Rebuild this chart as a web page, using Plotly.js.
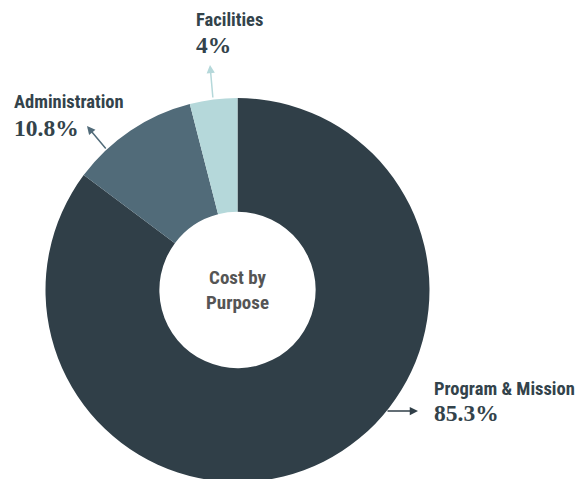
<!DOCTYPE html>
<html>
<head>
<meta charset="utf-8">
<script src="https://cdn.plot.ly/plotly-3.0.1.min.js"></script>
<style>
html, body { margin: 0; padding: 0; overflow: hidden; background: #fff; }
#chart { width: 585px; height: 490px; }
</style>
</head>
<body>
<div id="chart"></div>
<script>
// Data
const categories = ["Program & Mission", "Administration", "Facilities"];
const values = [85.3, 10.8, 4];
const pctLabels = ["85.3%", "10.8%", "4%"];
const centerTitle = "Cost by<br>Purpose";

const colors = ["#303f48", "#516b79", "#b5d8da"];
const W = 585, H = 490;
const px = x => x / W;
const py = y => (H - y) / H;

const labelFont = "'Liberation Sans Narrow', 'Roboto Condensed', 'Arial Narrow', Roboto, sans-serif";
const pctFont = "'Liberation Serif', 'DejaVu Serif', serif";
const textColor = "#33434b";

// label positions (pixels) and arrow geometry for each category
const labelPos = [
  {x: 432, yl: 388.5, yp: 413, head: [418, 411], tail: [-32, 0]},
  {x: 12, yl: 102.5, yp: 128, head: [87, 126], tail: [20, 24]},
  {x: 194, yl: 19.5, yp: 45, head: [210, 65], tail: [3, 34]}
];

const annotations = [];
categories.forEach((c, i) => {
  const p = labelPos[i];
  annotations.push({
    xref: "paper", yref: "paper", x: px(p.x), y: py(p.yl),
    xanchor: "left", yanchor: "middle", showarrow: false,
    text: "<b>" + c + "</b>",
    font: {family: labelFont, size: 18.5, color: textColor}
  });
  annotations.push({
    xref: "paper", yref: "paper", x: px(p.x), y: py(p.yp),
    xanchor: "left", yanchor: "middle", showarrow: false,
    text: "<b>" + pctLabels[i] + "</b>",
    font: {family: pctFont, size: 23.5, color: textColor}
  });
  annotations.push({
    xref: "paper", yref: "paper", x: px(p.head[0]), y: py(p.head[1]),
    ax: p.tail[0], ay: p.tail[1], text: "", showarrow: true,
    arrowhead: 2, arrowsize: 1.1, arrowwidth: 1.5, arrowcolor: colors[i],
    standoff: 0, startstandoff: 0
  });
});

annotations.push({
  xref: "paper", yref: "paper", x: px(237.5), y: py(290),
  xanchor: "center", yanchor: "middle", showarrow: false,
  text: "<b>" + centerTitle + "</b>",
  font: {family: labelFont, size: 19, color: "#555555"}
});

const trace = {
  type: "pie",
  labels: categories,
  values: values,
  sort: false,
  direction: "clockwise",
  rotation: 0,
  hole: 0.407,
  textinfo: "none",
  hoverinfo: "none",
  marker: {colors: colors, line: {width: 0}},
  domain: {x: [px(45.5), px(429.5)], y: [py(482), py(98)]},
  showlegend: false
};

const layout = {
  width: W, height: H,
  margin: {l: 0, r: 0, t: 0, b: 0},
  paper_bgcolor: "#ffffff",
  showlegend: false,
  annotations: annotations
};

Plotly.newPlot("chart", [trace], layout, {staticPlot: true, displayModeBar: false});
</script>
</body>
</html>
